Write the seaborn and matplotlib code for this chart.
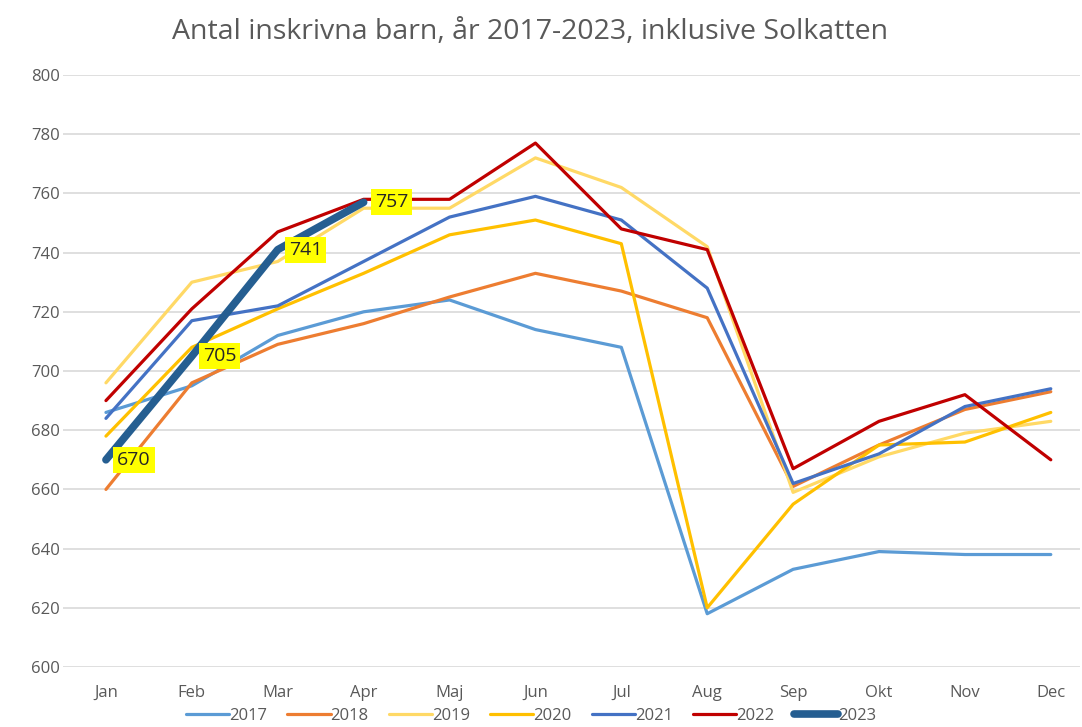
import pandas as pd
import matplotlib
matplotlib.use("Agg")
import matplotlib.pyplot as plt
import seaborn as sns

months = ["Jan", "Feb", "Mar", "Apr", "Maj", "Jun", "Jul", "Aug", "Sep", "Okt", "Nov", "Dec"]

y2017 = [686, 695, 712, 720, 724, 714, 708, 618, 633, 639, 638, 638]
y2018 = [660, 696, 709, 716, 725, 733, 727, 718, 661, 675, 687, 693]
y2019 = [696, 730, 737, 755, 755, 772, 762, 742, 659, 671, 679, 683]
y2020 = [678, 708, 721, 733, 746, 751, 743, 620, 655, 675, 676, 686]
y2021 = [684, 717, 722, 737, 752, 759, 751, 728, 662, 672, 688, 694]
y2022 = [690, 721, 747, 758, 758, 777, 748, 741, 667, 683, 692, 670]
y2023 = [670, 705, 741, 757]

years = ["2017", "2018", "2019", "2020", "2021", "2022", "2023"]
series = [y2017, y2018, y2019, y2020, y2021, y2022, y2023]
colors = ["#5B9BD5", "#ED7D31", "#FFD966", "#FFC000", "#4472C4", "#C00000", "#255E91"]
widths = [2.3, 2.3, 2.3, 2.3, 2.3, 2.3, 5.5]

rows = []
for yr, vals in zip(years, series):
	for i, v in enumerate(vals):
		rows.append((yr, i, v))
df = pd.DataFrame(rows, columns=["Year", "Month", "Value"])

sns.set_style("white")
plt.rcParams["font.family"] = ["Open Sans", "DejaVu Sans"]

fig = plt.figure(figsize=(10.82, 7.27), dpi=100)
ax = fig.add_axes([63 / 1082, 1 - 667 / 727, (1080 - 63) / 1082, (667 - 75) / 727])

for yr, col, lw in zip(years, colors, widths):
	sns.lineplot(data=df[df["Year"] == yr], x="Month", y="Value", color=col, linewidth=lw,
		label=yr, ax=ax, solid_capstyle="round", solid_joinstyle="round")

# data labels for 2023
for i, v in enumerate(y2023):
	ax.annotate(str(v), xy=(i, v), xytext=(8, 0), textcoords="offset points",
		ha="left", va="center", fontsize=14, color="#262626",
		bbox=dict(boxstyle="square,pad=0.2", fc="#FFFF00", ec="none"))

ax.set_xlim(-0.5, 11.34)
ax.set_ylim(600, 800)
ax.set_yticks(range(600, 801, 20))
ax.set_xticks(range(12))
ax.set_xticklabels(months)
ax.grid(axis="y", color="#D9D9D9", linewidth=1.2)
ax.set_axisbelow(True)
for s in ax.spines.values():
	s.set_visible(False)
ax.tick_params(axis="both", length=0, labelsize=12, colors="#595959")
ax.tick_params(axis="x", pad=13)
ax.tick_params(axis="y", pad=2)
ax.set_xlabel("")
ax.set_ylabel("")

fig.suptitle("Antal inskrivna barn, år 2017-2023, inklusive Solkatten", x=0.49, y=0.975,
	fontsize=20.5, color="#595959")

leg = ax.legend(loc="center", bbox_to_anchor=(0.46, -0.083), ncol=7, frameon=False,
	fontsize=12, handlelength=2.6, handletextpad=0.0, columnspacing=1.2, borderpad=0.1)
for t in leg.get_texts():
	t.set_color("#595959")

fig.savefig("out.png", dpi=100)
